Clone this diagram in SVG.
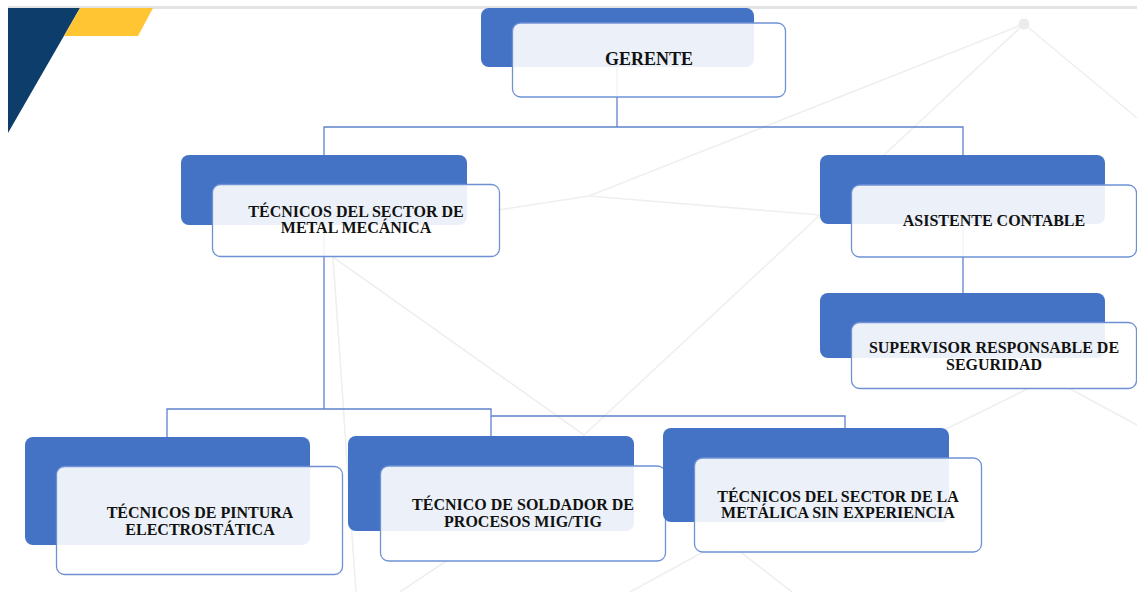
<svg xmlns="http://www.w3.org/2000/svg" width="1137" height="592" viewBox="0 0 1137 592">
  <style>
    .bg-line { stroke: #efefef; stroke-width: 1.6; fill: none; }
    .back { fill: #4472c4; }
    .front { fill: #ffffff; fill-opacity: 0.9; stroke: #6e91d3; stroke-width: 1.3; }
    .conn { stroke: #5f82cc; stroke-width: 1.3; fill: none; }
    .label { font-family: "Liberation Serif", "Times New Roman", serif; font-weight: bold; font-size: 16px; fill: #111111; text-anchor: middle; }
  </style>

  <rect x="0" y="0" width="1137" height="592" fill="#ffffff"/>

  <!-- faint network pattern in the background -->
  <g id="background">
    <line class="bg-line" x1="1024" y1="24" x2="589" y2="196"/>
    <line class="bg-line" x1="1024" y1="24" x2="820" y2="215"/>
    <line class="bg-line" x1="1024" y1="24" x2="1137" y2="118"/>
    <line class="bg-line" x1="589" y1="196" x2="420" y2="222"/>
    <line class="bg-line" x1="589" y1="196" x2="820" y2="215"/>
    <line class="bg-line" x1="820" y1="215" x2="584" y2="435"/>
    <line class="bg-line" x1="820" y1="215" x2="1137" y2="250"/>
    <line class="bg-line" x1="333" y1="257" x2="584" y2="435"/>
    <line class="bg-line" x1="333" y1="257" x2="356" y2="592"/>
    <line class="bg-line" x1="1050" y1="378" x2="940" y2="432"/>
    <line class="bg-line" x1="1050" y1="378" x2="1137" y2="425"/>
    <line class="bg-line" x1="500" y1="525" x2="400" y2="592"/>
    <line class="bg-line" x1="725" y1="540" x2="630" y2="592"/>
    <line class="bg-line" x1="725" y1="540" x2="792" y2="592"/>
    <circle cx="1024" cy="24" r="5.5" fill="#ebebeb"/>
  </g>

  <!-- page header: rule and corner accents -->
  <rect x="8" y="6" width="1129" height="3" fill="#e4e4e4"/>
  <polygon points="8,8 80,8 8,133" fill="#0d3e6b"/>
  <polygon points="80,8 153,8 138,36 64,36" fill="#ffc532"/>

  <!-- reporting lines -->
  <g id="connectors">
    <polyline class="conn" points="617,67 617,127"/>
    <polyline class="conn" points="324,155 324,127 963,127 963,155"/>
    <polyline class="conn" points="963,224 963,293"/>
    <polyline class="conn" points="324,225 324,409"/>
    <polyline class="conn" points="167,437 167,409 491,409 491,436"/>
    <polyline class="conn" points="491,416 845,416 845,428"/>
  </g>

  <g id="node-gerente">
    <rect class="back" x="481" y="8" width="273" height="59" rx="8"/>
    <rect class="front" x="512.5" y="23" width="273" height="74" rx="8"/>
    <text class="label" x="649" y="65" style="font-size:18px">GERENTE</text>
  </g>

  <g id="node-metal-mecanica">
    <rect class="back" x="181" y="155" width="286" height="70" rx="8"/>
    <rect class="front" x="212.5" y="184.5" width="287" height="72" rx="8"/>
    <text class="label" x="356" y="217">TÉCNICOS DEL SECTOR DE</text>
    <text class="label" x="356" y="233">METAL MECÁNICA</text>
  </g>

  <g id="node-asistente">
    <rect class="back" x="820" y="155" width="285" height="69" rx="8"/>
    <rect class="front" x="851.5" y="185" width="285" height="72" rx="8"/>
    <text class="label" x="994" y="226">ASISTENTE CONTABLE</text>
  </g>

  <g id="node-supervisor">
    <rect class="back" x="820" y="293" width="285" height="65" rx="8"/>
    <rect class="front" x="851.5" y="322.5" width="285" height="66" rx="8"/>
    <text class="label" x="994" y="353">SUPERVISOR RESPONSABLE DE</text>
    <text class="label" x="994" y="370">SEGURIDAD</text>
  </g>

  <g id="node-pintura">
    <rect class="back" x="25" y="437" width="285" height="108" rx="8"/>
    <rect class="front" x="56.5" y="466.5" width="286" height="108" rx="8"/>
    <text class="label" x="200" y="518">TÉCNICOS DE PINTURA</text>
    <text class="label" x="200" y="535">ELECTROSTÁTICA</text>
  </g>

  <g id="node-soldador">
    <rect class="back" x="348" y="436" width="286" height="95" rx="8"/>
    <rect class="front" x="380.5" y="466" width="285" height="95" rx="8"/>
    <text class="label" x="523" y="510">TÉCNICO DE SOLDADOR DE</text>
    <text class="label" x="523" y="527">PROCESOS MIG/TIG</text>
  </g>

  <g id="node-sin-experiencia">
    <rect class="back" x="663" y="428" width="286" height="94" rx="8"/>
    <rect class="front" x="694.5" y="458" width="287" height="94" rx="8"/>
    <text class="label" x="838" y="502">TÉCNICOS DEL SECTOR DE LA</text>
    <text class="label" x="838" y="518">METÁLICA SIN EXPERIENCIA</text>
  </g>
</svg>
